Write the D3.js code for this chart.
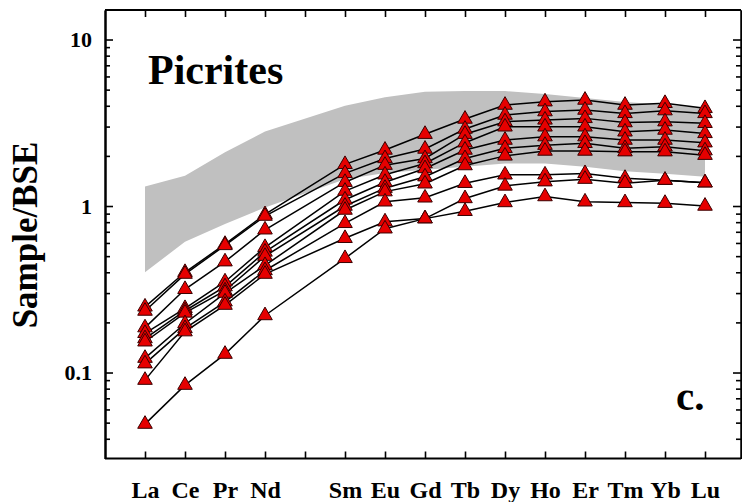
<!DOCTYPE html>
<html><head><meta charset="utf-8">
<script src="https://cdn.jsdelivr.net/npm/d3@7"></script>
<style>
html,body{margin:0;padding:0;background:#fff;}
svg{display:block;font-family:"Liberation Serif","Times New Roman",serif;font-weight:bold;}
</style>
</head><body><svg id="c" width="742" height="502"></svg>
<script>
// ---- data ----
const elements = ["La","Ce","Pr","Nd","Pm","Sm","Eu","Gd","Tb","Dy","Ho","Er","Tm","Yb","Lu"];
const plotted  = ["La","Ce","Pr","Nd","Sm","Eu","Gd","Tb","Dy","Ho","Er","Tm","Yb","Lu"];
const sample1  = [0.248,0.40,0.59,0.89,1.78,2.17,2.70,3.33,4.04,4.23,4.33,4.04,4.14,3.86];
const sample2  = [0.234,0.39,0.58,0.87,1.57,1.93,2.20,2.90,3.52,3.69,3.77,3.60,3.74,3.60];
const sample3  = [0.186,0.316,0.463,0.72,1.39,1.76,1.93,2.70,3.21,3.29,3.36,3.17,3.21,3.14];
const sample4  = [0.172,0.243,0.351,0.565,1.23,1.54,1.80,2.40,2.99,2.99,2.99,2.79,2.86,2.73];
const sample5  = [0.160,0.235,0.328,0.53,1.09,1.39,1.68,2.17,2.49,2.61,2.61,2.49,2.49,2.40];
const sample6  = [0.153,0.228,0.31,0.50,1.00,1.28,1.50,1.93,2.22,2.32,2.38,2.22,2.27,2.15];
const sample7  = [0.122,0.197,0.30,0.44,0.946,1.22,1.36,1.75,2.00,2.14,2.14,2.12,2.12,2.02];
const sample8  = [0.113,0.184,0.266,0.41,0.787,1.06,1.12,1.37,1.54,1.54,1.57,1.47,1.43,1.38];
const sample9  = [0.090,0.176,0.254,0.39,0.64,0.805,0.84,1.11,1.32,1.40,1.45,1.37,1.43,1.38];
const sample10 = [0.049,0.084,0.129,0.22,0.485,0.73,0.84,0.93,1.05,1.14,1.06,1.05,1.04,1.00];
const bandUpper = [1.31,1.52,2.10,2.80,4.00,4.50,4.85,4.90,4.90,4.70,4.45,4.22,4.05,3.88];
const bandLower = [0.40,0.61,0.78,0.98,1.45,1.58,1.65,1.72,1.80,1.80,1.72,1.62,1.56,1.50];
const yMajorTicks = [0.1, 1, 10];
const yTickLabels = ["0.1","1","10"];
const yAxisTitle = "Sample/BSE";
const panelTitle = "Picrites";
const panelLetter = "c.";

const seriesList = [sample1,sample2,sample3,sample4,sample5,sample6,sample7,sample8,sample9,sample10];

// ---- layout ----
const L = 105, R = 741, T = 10, B = 458.5;
const svg = d3.select("#c");
const x = d3.scalePoint().domain(elements).range([145, 705]);
const y = d3.scaleLog().domain([0.03045, 15.04]).range([B, T]);

const minorTicks = y.ticks().filter(v => !yMajorTicks.includes(v));

// band
const area = d3.area()
  .x((d,i) => x(plotted[i]))
  .y0((d,i) => y(bandLower[i]))
  .y1(d => y(d));
svg.append("path").datum(bandUpper).attr("d", area).attr("fill", "#c0c0c0");

// lines
const line = d3.line().x((d,i) => x(plotted[i])).y(d => y(d));
svg.append("g").selectAll("path").data(seriesList).join("path")
  .attr("d", line).attr("fill","none").attr("stroke","#000").attr("stroke-width",1.5);

// markers
const sym = d3.symbol().type(d3.symbolTriangle).size(92);
const pts = [];
seriesList.forEach(s => s.forEach((v,i) => pts.push({e: plotted[i], v})));
svg.append("g").selectAll("path").data(pts).join("path")
  .attr("d", sym)
  .attr("transform", d => `translate(${x(d.e)},${y(d.v)})`)
  .attr("fill","#e60000").attr("stroke","#3a0000").attr("stroke-width",1);

// axes
function styleAxis(g){
  g.selectAll(".domain").attr("stroke","#000").attr("stroke-width",2);
  g.selectAll(".tick line").attr("stroke","#000").attr("stroke-width",1.6);
}
const fmtLabel = v => yTickLabels[yMajorTicks.indexOf(v)] || "";

// left
const gl = svg.append("g").attr("transform",`translate(${L},0)`);
gl.call(d3.axisLeft(y).tickValues(yMajorTicks).tickSize(-8).tickSizeOuter(0).tickPadding(13).tickFormat(fmtLabel));
gl.append("g").call(d3.axisLeft(y).tickValues(minorTicks).tickSize(-5).tickSizeOuter(0).tickFormat(""));
gl.selectAll("text").attr("font-size",22).attr("font-family","Liberation Serif").attr("font-weight","bold").attr("fill","#000");
styleAxis(gl);

// right
const gr = svg.append("g").attr("transform",`translate(${R},0)`);
gr.call(d3.axisRight(y).tickValues(yMajorTicks).tickSize(-8).tickSizeOuter(0).tickFormat(""));
gr.append("g").call(d3.axisRight(y).tickValues(minorTicks).tickSize(-5).tickSizeOuter(0).tickFormat(""));
styleAxis(gr);

// bottom
const gb = svg.append("g").attr("transform",`translate(0,${B})`);
gb.call(d3.axisBottom(x).tickSize(-7).tickSizeOuter(0).tickPadding(22).tickFormat(d => d === "Pm" ? "" : d));
gb.select(".domain").attr("d", `M${L},0H${R}`);
gb.selectAll("text").attr("font-size",24).attr("font-family","Liberation Serif").attr("font-weight","bold").attr("fill","#000");
styleAxis(gb);

// top
const gt = svg.append("g").attr("transform",`translate(0,${T})`);
gt.call(d3.axisTop(x).tickSize(-7).tickSizeOuter(0).tickFormat(""));
gt.select(".domain").attr("d", `M${L},0H${R}`);
styleAxis(gt);

// texts
svg.append("text").attr("x",148).attr("y",83.5).attr("font-size",42).attr("fill","#000").text(panelTitle);
svg.append("text").attr("x",676).attr("y",410).attr("font-size",41).attr("fill","#000").text(panelLetter);
svg.append("text").attr("transform","translate(37,235) rotate(-90)").attr("text-anchor","middle")
  .attr("font-size",35).attr("fill","#000").text(yAxisTitle);
</script>
</body></html>
